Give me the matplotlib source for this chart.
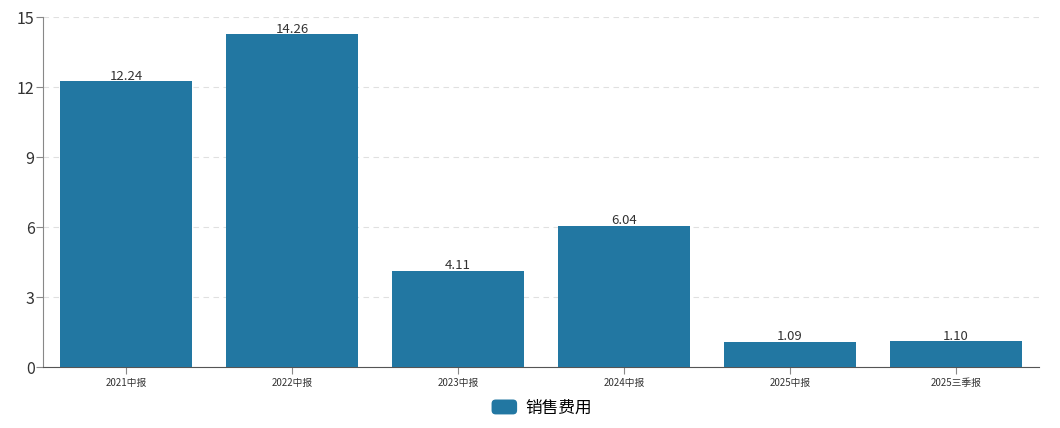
import matplotlib.pyplot as plt
from matplotlib.patches import FancyBboxPatch
from matplotlib.legend_handler import HandlerPatch

plt.rcParams['font.family'] = ['Noto Sans CJK SC', 'DejaVu Sans']

# data
periods = ['2021中报', '2022中报', '2023中报', '2024中报', '2025中报', '2025三季报']
sales_cost = [12.24, 14.26, 4.11, 6.04, 1.09, 1.10]
yticks = [0, 3, 6, 9, 12, 15]
series_name = '销售费用'

bar_color = '#2277a2'

fig = plt.figure(figsize=(10.6, 4.28), dpi=100)
ax = fig.add_axes([0.0406, 0.1425, 0.9394, 0.8175])

x = list(range(len(periods)))
bars = ax.bar(x, sales_cost, width=0.795, color=bar_color, label=series_name, zorder=3)

for xi, v in zip(x, sales_cost):
    ax.text(xi, v - 0.05, f'{v:.2f}', ha='center', va='bottom', fontsize=9.5, color='#333333', zorder=4)

ax.set_xlim(-0.5, len(periods) - 0.5)
ax.set_ylim(0, 15)
ax.set_yticks(yticks)
ax.set_yticklabels([str(t) for t in yticks], fontsize=11.5, color='#333333')
ax.set_xticks(x)
ax.set_xticklabels(periods, fontsize=7, color='#333333')

ax.yaxis.grid(True, linestyle=(0, (5, 4)), color='#e0e0e0', linewidth=0.8, zorder=0)
ax.spines['top'].set_visible(False)
ax.spines['right'].set_visible(False)
ax.spines['left'].set_color('#888888')
ax.spines['bottom'].set_color('#555555')
ax.tick_params(axis='y', length=5, color='#888888', pad=1)
ax.tick_params(axis='x', length=5, color='#888888', pad=3)


class RoundHandler(HandlerPatch):
    def create_artists(self, legend, orig_handle, xdescent, ydescent, width, height, fontsize, trans):
        p = FancyBboxPatch((-xdescent + 1, -ydescent), width - 2, height,
                           boxstyle='round,pad=0,rounding_size=3',
                           facecolor=bar_color, edgecolor='none', transform=trans)
        return [p]


ax.legend(handles=[bars.patches[0]], labels=[series_name], handler_map={bars.patches[0]: RoundHandler()},
          loc='upper center', bbox_to_anchor=(0.5, -0.05), frameon=False, fontsize=12,
          handlelength=1.7, handleheight=1.0, handletextpad=0.4)

fig.savefig('out.png', dpi=100)
